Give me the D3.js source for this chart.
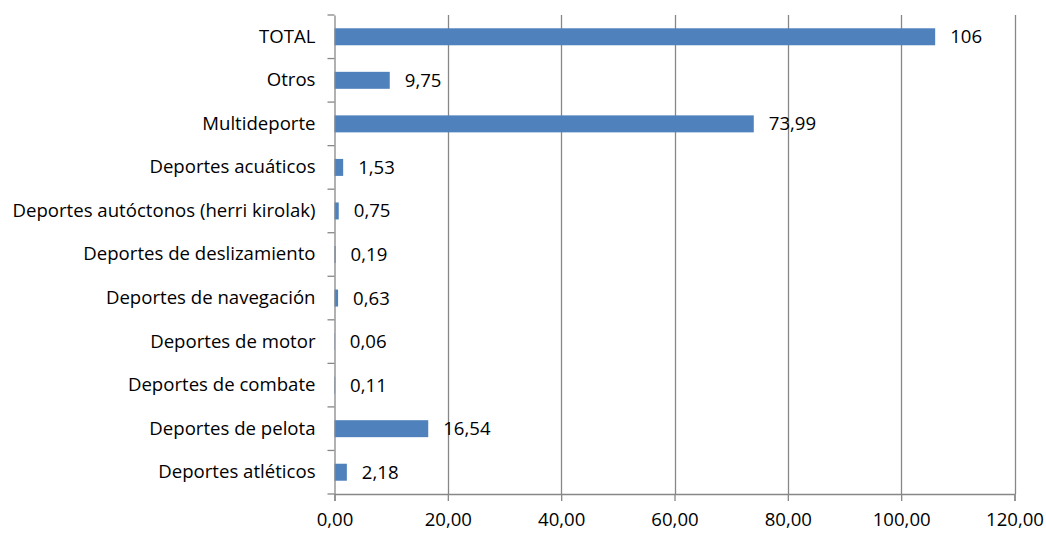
<!DOCTYPE html>
<html><head><meta charset="utf-8">
<script src="https://cdn.jsdelivr.net/npm/d3@7"></script>
<style>body{margin:0;background:#fff}svg{display:block}text{font-family:"Open Sans",sans-serif;fill:#000}</style>
</head><body>
<div id="chart"></div>
<script>
const categories = ["TOTAL","Otros","Multideporte","Deportes acuáticos","Deportes autóctonos (herri kirolak)","Deportes de deslizamiento","Deportes de navegación","Deportes de motor","Deportes de combate","Deportes de pelota","Deportes atléticos"];
const values = [106, 9.75, 73.99, 1.53, 0.75, 0.19, 0.63, 0.06, 0.11, 16.54, 2.18];
const xTicks = [0, 20, 40, 60, 80, 100, 120];

const W = 1046, H = 534;
const FS = 18.6;
const FF = "Open Sans";
const m = {left: 334.5, right: 31.5, top: 15, bottom: 40};
const svg = d3.select("#chart").append("svg").attr("width", W).attr("height", H);
const x = d3.scaleLinear().domain([0, 120]).range([m.left, W - m.right]);
const y = d3.scaleBand().domain(categories).range([m.top, H - m.bottom]).paddingInner(0.61).paddingOuter(0.305);
const yb = d3.scaleBand().domain(categories).range([m.top, H - m.bottom]);
const fmt = v => Number.isInteger(v) ? String(v) : v.toFixed(2).replace(".", ",");
const grid = "#878787";

svg.append("g").selectAll("line").data(xTicks.slice(1)).join("line")
  .attr("x1", d => Math.round(x(d)) + 0.5).attr("x2", d => Math.round(x(d)) + 0.5)
  .attr("y1", m.top).attr("y2", H - m.bottom).attr("stroke", grid).attr("stroke-width", 1.3);

svg.append("g").selectAll("rect").data(values).join("rect")
  .attr("x", x(0)).attr("y", (d, i) => y(categories[i]))
  .attr("width", d => x(d) - x(0)).attr("height", y.bandwidth())
  .attr("fill", "#4F81BD");

svg.append("g").selectAll("text").data(values).join("text")
  .attr("x", d => x(d) + 15).attr("y", (d, i) => y(categories[i]) + y.bandwidth() / 2)
  .attr("dy", "0.35em").attr("font-size", FS).text(d => fmt(d));

const xAxis = svg.append("g").attr("transform", `translate(0,${H - m.bottom})`)
  .call(d3.axisBottom(x).tickValues(xTicks).tickSize(7).tickPadding(12).tickFormat(d => d.toFixed(2).replace(".", ",")));
xAxis.select(".domain").attr("stroke", grid).attr("stroke-width", 1.3);
xAxis.selectAll(".tick line").attr("stroke", grid).attr("stroke-width", 1.3);
xAxis.selectAll("text").attr("font-size", FS).attr("font-family", FF).attr("fill", "#000");

const yAxis = svg.append("g").attr("transform", `translate(${m.left},0)`)
  .call(d3.axisLeft(yb).tickSize(0).tickPadding(19));
yAxis.select(".domain").attr("stroke", grid).attr("stroke-width", 1.3);
yAxis.selectAll("text").attr("font-size", FS).attr("font-family", FF).attr("fill", "#000");
svg.append("g").selectAll("line").data(d3.range(categories.length + 1)).join("line")
  .attr("x1", m.left - 7).attr("x2", m.left)
  .attr("y1", i => m.top + i * yb.step()).attr("y2", i => m.top + i * yb.step())
  .attr("stroke", grid).attr("stroke-width", 1.3);
</script>
</body></html>
